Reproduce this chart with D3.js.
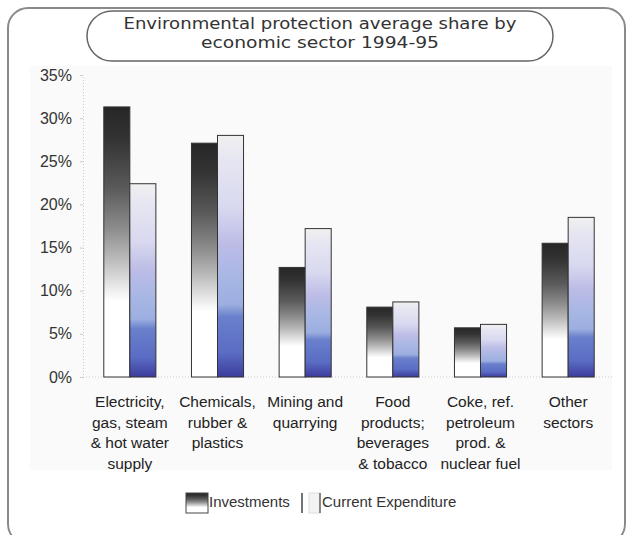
<!DOCTYPE html>
<html>
<head>
<meta charset="utf-8">
<script src="https://cdn.jsdelivr.net/npm/d3@7"></script>
<style>
  body { margin: 0; background: #fff; }
  svg { display: block; font-family: "Liberation Sans", Arial, sans-serif; }
</style>
</head>
<body>
<svg id="chart" width="629" height="535"></svg>
<script>
const titleLines = ["Environmental protection average share by", "economic sector 1994-95"];
const categories = [
    "Electricity, gas, steam & hot water supply",
    "Chemicals, rubber & plastics",
    "Mining and quarrying",
    "Food products; beverages & tobacco",
    "Coke, ref. petroleum prod. & nuclear fuel",
    "Other sectors"
];
const categoryLines = [
    ["Electricity,", "gas, steam", "& hot water", "supply"],
    ["Chemicals,", "rubber &", "plastics"],
    ["Mining and", "quarrying"],
    ["Food", "products;", "beverages", "& tobacco"],
    ["Coke, ref.", "petroleum", "prod. &", "nuclear fuel"],
    ["Other", "sectors"]
];
const seriesNames = ["Investments", "Current Expenditure"];
const investments = [31.3, 27.1, 12.7, 8.1, 5.7, 15.5];
const currentExpenditure = [22.4, 28.0, 17.2, 8.7, 6.1, 18.5];
const yTicks = [0, 5, 10, 15, 20, 25, 30, 35];

const svg = d3.select("#chart");
const defs = svg.append("defs");

// vertical gradients, one per series
function addGradient(id, stops) {
    const g = defs.append("linearGradient")
        .attr("id", id)
        .attr("x1", 0).attr("y1", 0).attr("x2", 0).attr("y2", 1);
    stops.forEach(s => g.append("stop").attr("offset", s[0]).attr("stop-color", s[1]));
}
addGradient("gradInv", [
    [0, "#262626"], [0.12, "#333"], [0.3, "#5a5a5a"], [0.45, "#8c8c8c"],
    [0.57, "#bdbdbd"], [0.66, "#e6e6e6"], [0.72, "#fff"], [1, "#fff"]
]);
addGradient("gradCur", [
    [0, "#f0f0f0"], [0.1, "#e6e6f2"], [0.3, "#d8d8f0"], [0.45, "#bcbce6"],
    [0.6, "#a6b6e4"], [0.7, "#9caee0"], [0.75, "#6a80cc"], [0.9, "#5a6cc4"], [1, "#3c3c9c"]
]);
const fills = ["url(#gradInv)", "url(#gradCur)"];

// outer frame
svg.append("rect")
    .attr("x", 8).attr("y", 8).attr("width", 617).attr("height", 536)
    .attr("rx", 20)
    .attr("fill", "#fff").attr("stroke", "#8a8a8a").attr("stroke-width", 2);

// title box
svg.append("rect")
    .attr("x", 87).attr("y", 11).attr("width", 466).attr("height", 50)
    .attr("rx", 25)
    .attr("fill", "#fff").attr("stroke", "#666").attr("stroke-width", 1.5);

const titleWidths = [393, 238];
svg.append("g").selectAll("text")
    .data(titleLines)
    .join("text")
    .attr("x", 320)
    .attr("y", (d, i) => 29 + i * 19)
    .attr("text-anchor", "middle")
    .attr("textLength", (d, i) => titleWidths[i])
    .attr("lengthAdjust", "spacingAndGlyphs")
    .attr("font-family", "'DejaVu Sans', sans-serif")
    .attr("font-size", 16)
    .attr("fill", "#333")
    .text(d => d);

// scales
const x = d3.scaleBand()
    .domain(categories)
    .range([86, 612])
    .paddingInner(0.406)
    .paddingOuter(0.203);

const xSeries = d3.scaleBand()
    .domain(seriesNames)
    .range([0, x.bandwidth()]);

const y = d3.scaleLinear()
    .domain([0, 35])
    .range([377, 75]);

// faint plot background
svg.append("rect")
    .attr("x", 30).attr("y", 66).attr("width", 582).attr("height", 404)
    .attr("fill", "#fafafa");

// y axis
const yAxis = svg.append("g")
    .attr("transform", "translate(83,0)")
    .call(d3.axisLeft(y).tickValues(yTicks).tickFormat(d => d + "%").tickSize(3).tickPadding(8));
yAxis.select(".domain").attr("stroke", "#ccc").attr("stroke-dasharray", "1,2");
yAxis.selectAll(".tick line").attr("stroke", "#ccc");
yAxis.selectAll(".tick text")
    .attr("font-size", 16)
    .attr("font-family", "'Liberation Sans', Arial, sans-serif")
    .attr("fill", "#333");

// baseline
svg.append("line")
    .attr("x1", 83).attr("x2", 612)
    .attr("y1", y(0)).attr("y2", y(0))
    .attr("stroke", "#ccc").attr("stroke-dasharray", "1,2");

// bars
const rows = categories.map((c, i) => ({
    category: c,
    values: [investments[i], currentExpenditure[i]]
}));

const groups = svg.append("g").selectAll("g")
    .data(rows)
    .join("g")
    .attr("transform", d => `translate(${x(d.category)},0)`);

groups.selectAll("rect")
    .data(d => d.values.map((v, j) => ({ series: seriesNames[j], value: v, j: j })))
    .join("rect")
    .attr("x", d => xSeries(d.series))
    .attr("y", d => y(d.value))
    .attr("width", xSeries.bandwidth())
    .attr("height", d => y(0) - y(d.value))
    .attr("fill", d => fills[d.j])
    .attr("stroke", "#333")
    .attr("stroke-width", 1);

// category labels
const labels = svg.append("g").selectAll("text")
    .data(rows)
    .join("text")
    .attr("x", d => x(d.category) + x.bandwidth() / 2)
    .attr("y", 407)
    .attr("text-anchor", "middle")
    .attr("font-size", 15.5)
    .attr("fill", "#222");

labels.selectAll("tspan")
    .data((d, i) => categoryLines[i])
    .join("tspan")
    .attr("x", function() { return this.parentNode.getAttribute("x"); })
    .attr("dy", (d, i) => i === 0 ? 0 : 20.5)
    .text(d => d);

// legend
const legend = svg.append("g");
legend.append("rect")
    .attr("x", 186).attr("y", 493).attr("width", 22).attr("height", 20)
    .attr("fill", fills[0]).attr("stroke", "#444");
legend.append("text")
    .attr("x", 209).attr("y", 507)
    .attr("font-size", 15).attr("fill", "#333")
    .text(seriesNames[0]);
legend.append("line")
    .attr("x1", 302).attr("x2", 302).attr("y1", 493).attr("y2", 513)
    .attr("stroke", "#444").attr("stroke-width", 1.5);
legend.append("rect")
    .attr("x", 309).attr("y", 493).attr("width", 11).attr("height", 20)
    .attr("fill", "#f3f3f3").attr("stroke", "#ddd");
legend.append("line")
    .attr("x1", 320).attr("x2", 320).attr("y1", 493).attr("y2", 513)
    .attr("stroke", "#444").attr("stroke-width", 1.2);
legend.append("text")
    .attr("x", 322).attr("y", 507)
    .attr("font-size", 15).attr("fill", "#333")
    .text(seriesNames[1]);
</script>
</body>
</html>
